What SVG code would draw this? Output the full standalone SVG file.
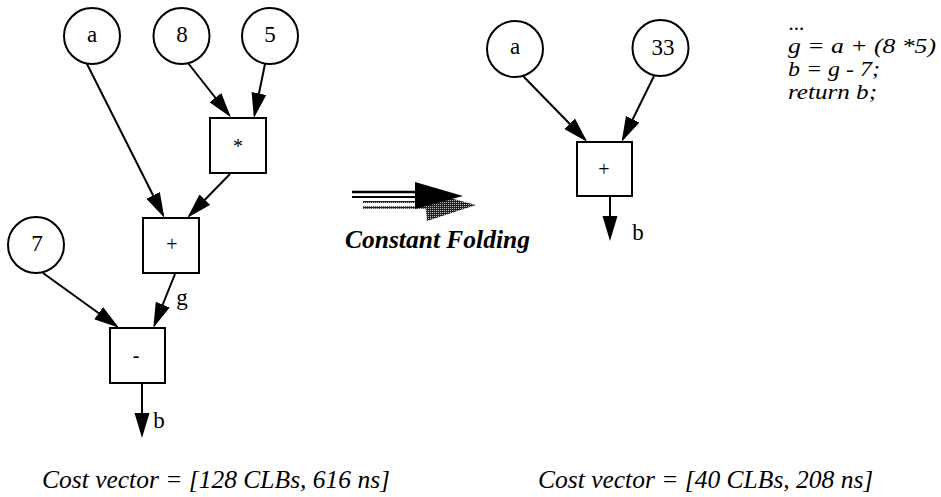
<svg xmlns="http://www.w3.org/2000/svg" width="941" height="497" viewBox="0 0 941 497">
  <style>
    .node circle, .node rect { fill: #fff; stroke: #000; stroke-width: 2; }
    .lbl { font-family: "Liberation Serif", "Times New Roman", serif; font-size: 23px; fill: #000; text-anchor: middle; }
    .op { font-family: "Liberation Serif", "Times New Roman", serif; font-size: 20px; fill: #000; text-anchor: middle; }
    .it { font-family: "Liberation Serif", "Times New Roman", serif; font-style: italic; font-size: 25.5px; fill: #000; }
    .code { font-family: "Liberation Serif", "Times New Roman", serif; font-style: italic; font-size: 21px; fill: #000; }
    .edge { stroke: #000; stroke-width: 2; fill: none; marker-end: url(#ah); }
  </style>
  <defs>
    <marker id="ah" markerUnits="userSpaceOnUse" markerWidth="26" markerHeight="16" viewBox="0 0 26 16" refX="22" refY="7.5" orient="auto">
      <path d="M0,0 L25,7.5 L0,15 z" fill="#000"/>
    </marker>
    <pattern id="stip" width="2" height="2" patternUnits="userSpaceOnUse">
      <rect width="2" height="2" fill="#222"/>
      <rect width="1" height="1" fill="#bbb"/>
    </pattern>
  </defs>
  <rect width="941" height="497" fill="#fff"/>

  <g id="connectors">
    <line class="edge" x1="87" y1="64" x2="163" y2="215"/>
    <line class="edge" x1="188" y1="63" x2="229" y2="115"/>
    <line class="edge" x1="265" y1="64" x2="254.5" y2="115"/>
    <line class="edge" x1="230" y1="174" x2="189.5" y2="215.5"/>
    <line class="edge" x1="43" y1="273" x2="116.5" y2="326"/>
    <line class="edge" x1="175" y1="274" x2="154.5" y2="325"/>
    <line class="edge" x1="142" y1="384" x2="142" y2="435"/>
    <line class="edge" x1="523" y1="76" x2="585" y2="139.5"/>
    <line class="edge" x1="654" y1="76" x2="623" y2="139"/>
    <line class="edge" x1="610" y1="197" x2="610" y2="238"/>
  </g>

  <g id="left-a" class="node"><circle cx="92" cy="36" r="28"/><text class="lbl" x="92" y="42">a</text></g>
  <g id="left-8" class="node"><circle cx="181.5" cy="36" r="28"/><text class="lbl" x="182" y="42">8</text></g>
  <g id="left-5" class="node"><circle cx="270" cy="36" r="28"/><text class="lbl" x="270" y="42">5</text></g>
  <g id="left-mul" class="node"><rect x="210" y="118" width="56" height="55"/><text class="op" x="238" y="153">*</text></g>
  <g id="left-add" class="node"><rect x="143" y="218" width="56" height="55"/><text class="op" x="172" y="251">+</text></g>
  <g id="left-7" class="node"><circle cx="36" cy="245" r="28"/><text class="lbl" x="37" y="251">7</text></g>
  <g id="left-sub" class="node"><rect x="110" y="328" width="55" height="55"/><text class="op" x="136" y="362">-</text></g>
  <text class="lbl" x="182" y="305">g</text>
  <text class="lbl" x="159" y="428">b</text>

  <g id="transform-arrow">
    <line x1="352" y1="192" x2="418" y2="192" stroke="#000" stroke-width="2.5"/>
    <line x1="352" y1="197" x2="418" y2="197" stroke="#000" stroke-width="2"/>
    <line x1="363" y1="202" x2="426" y2="202" stroke="url(#stip)" stroke-width="2"/>
    <line x1="363" y1="207.5" x2="426" y2="207.5" stroke="url(#stip)" stroke-width="2.5"/>
    <polygon points="424,191 476,205 427,221" fill="url(#stip)"/>
    <polygon points="415,182 463,196 415,209" fill="#000"/>
    <text class="it" x="345" y="248" font-weight="bold" font-size="25px">Constant Folding</text>
  </g>

  <g id="right-a" class="node"><circle cx="515" cy="49" r="28"/><text class="lbl" x="515" y="54">a</text></g>
  <g id="right-33" class="node"><circle cx="660.5" cy="48" r="28"/><text class="lbl" x="663" y="55">33</text></g>
  <g id="right-add" class="node"><rect x="577" y="142" width="55" height="54"/><text class="op" x="604" y="176">+</text></g>
  <text class="lbl" x="638" y="240">b</text>

  <g id="code">
    <text class="code" x="789" y="29.5">...</text>
    <text class="code" x="788" y="52.5" textLength="148" lengthAdjust="spacingAndGlyphs">g = a + (8 *5)</text>
    <text class="code" x="788" y="75.5" textLength="92" lengthAdjust="spacingAndGlyphs">b = g - 7;</text>
    <text class="code" x="788" y="98.5" textLength="89" lengthAdjust="spacingAndGlyphs">return b;</text>
  </g>

  <text class="it" x="42" y="488">Cost vector = [128 CLBs, 616 ns]</text>
  <text class="it" x="538" y="488">Cost vector = [40 CLBs, 208 ns]</text>
</svg>
